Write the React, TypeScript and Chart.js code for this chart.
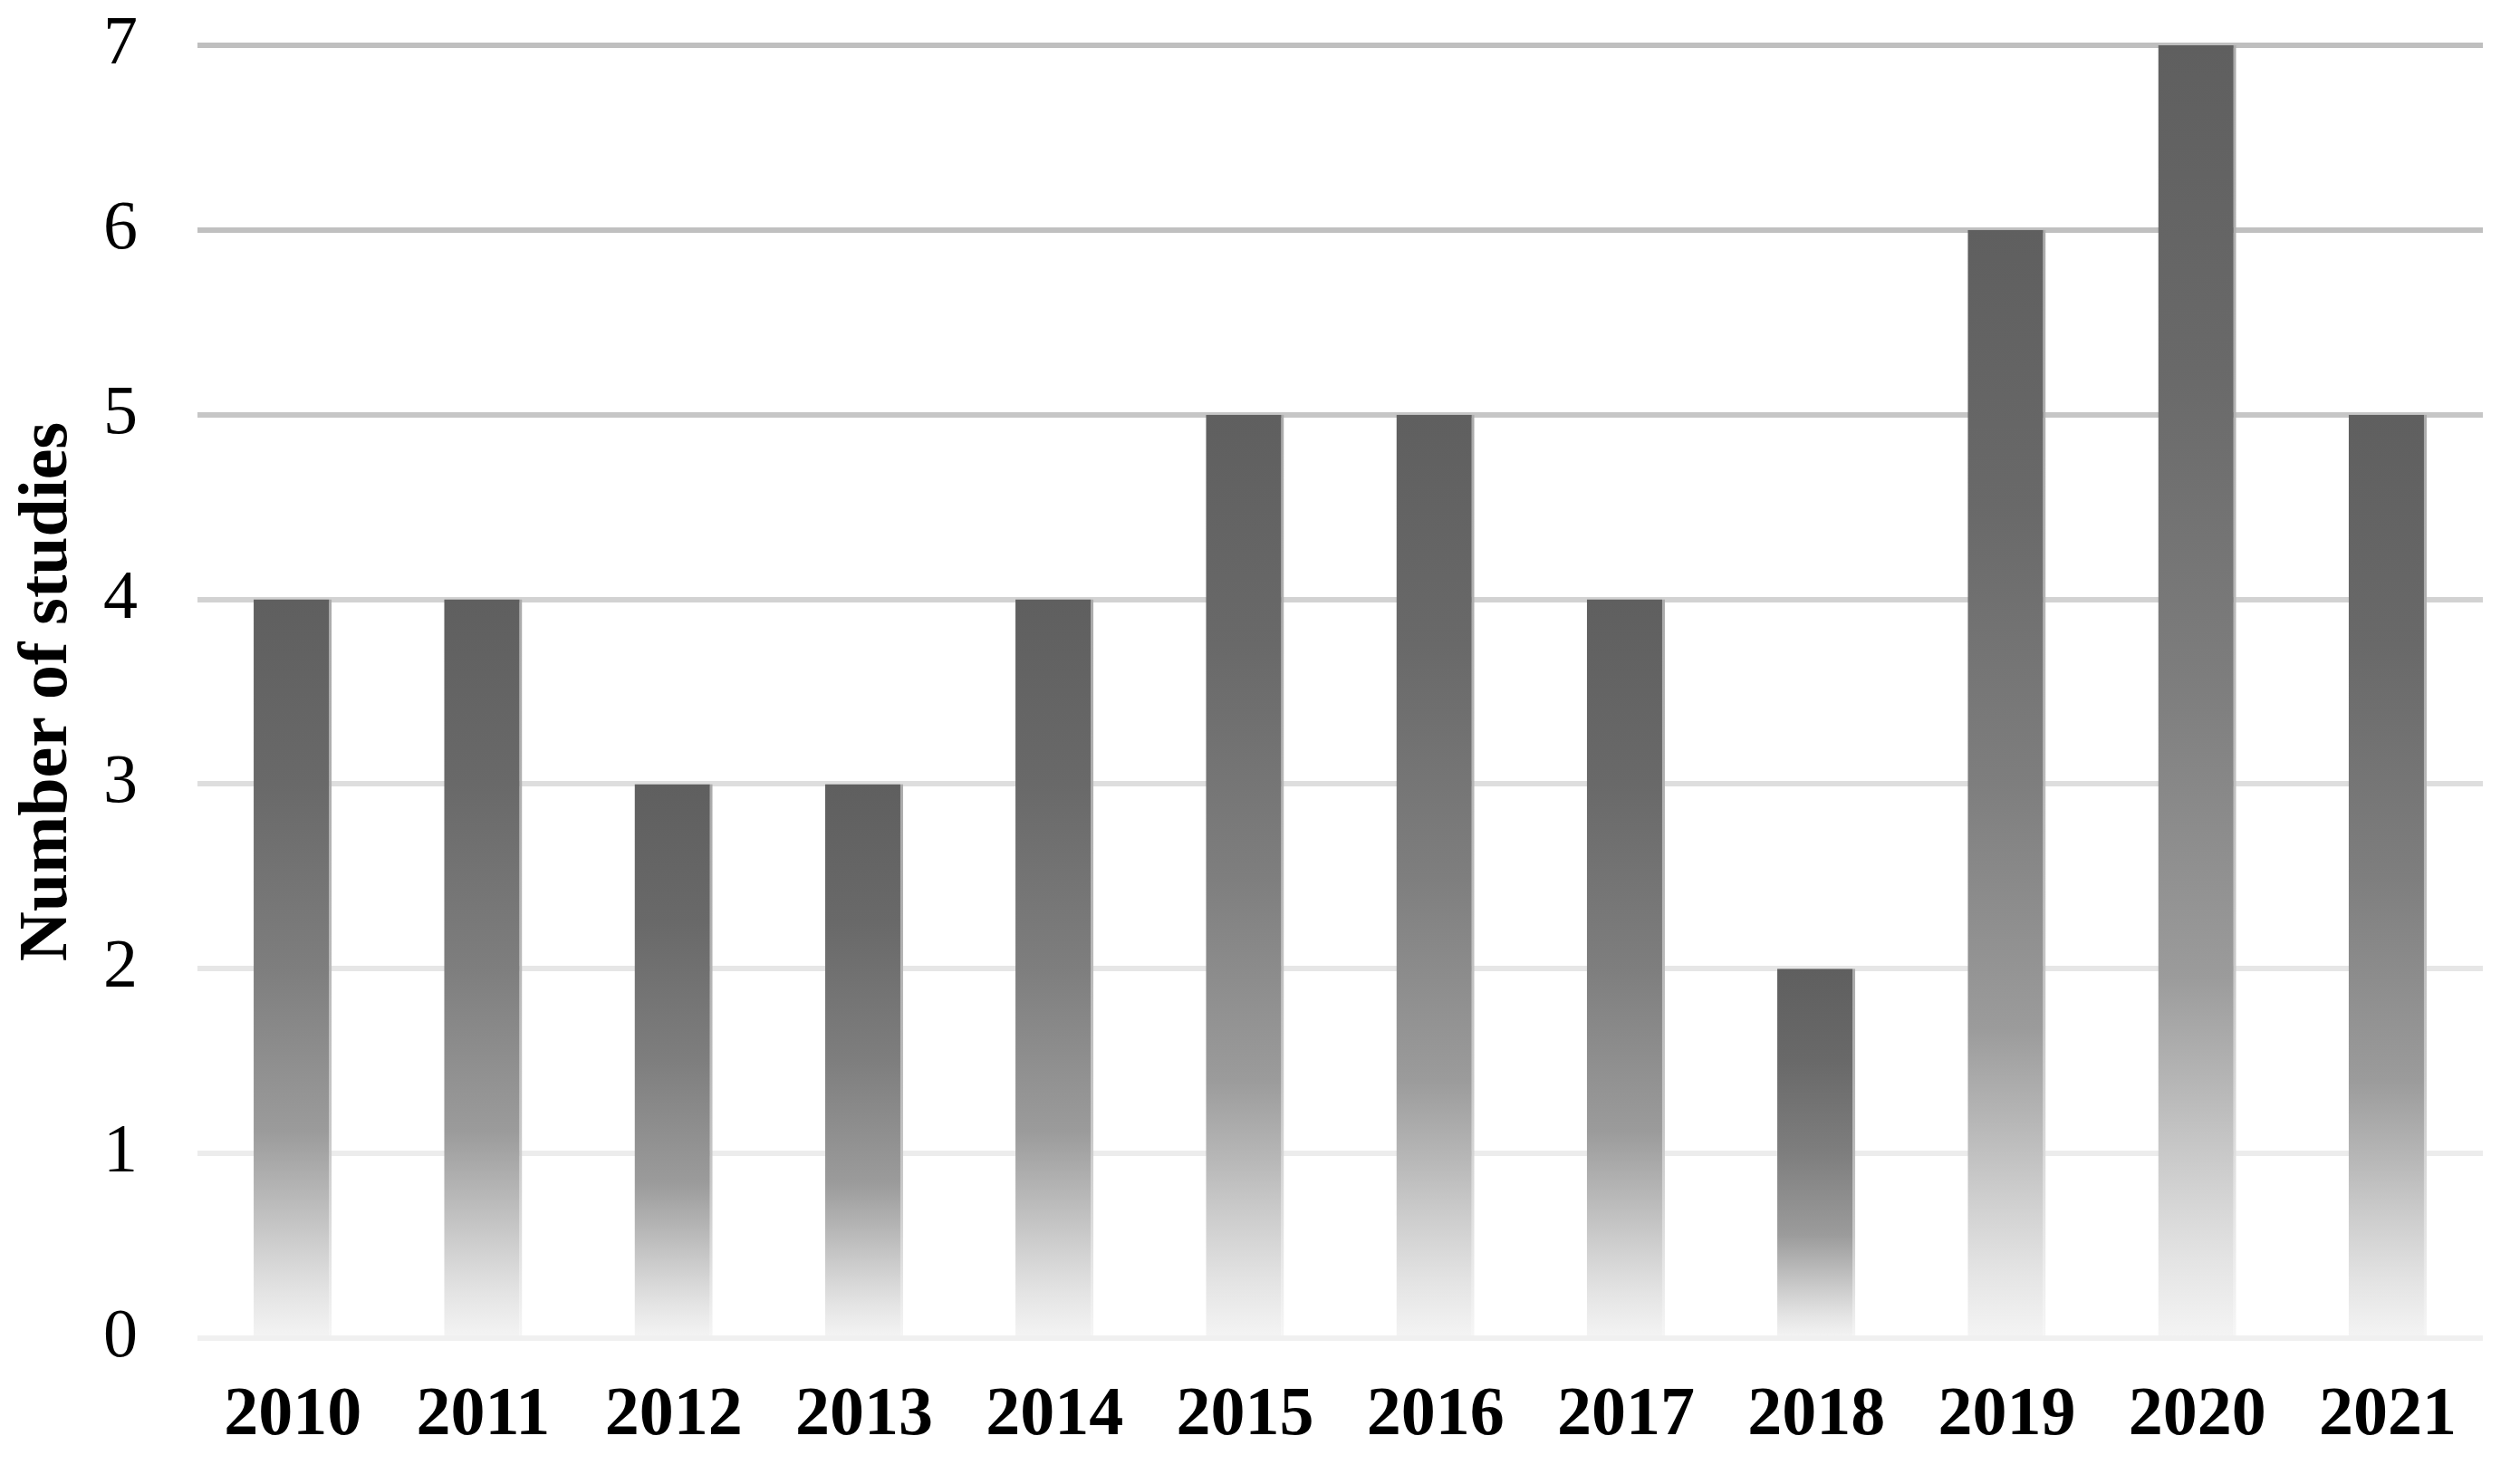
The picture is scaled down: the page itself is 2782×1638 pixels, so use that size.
import React, { useEffect, useRef } from "react";
import { Chart, registerables } from "chart.js";

Chart.register(...registerables);

const categories = ["2010", "2011", "2012", "2013", "2014", "2015", "2016", "2017", "2018", "2019", "2020", "2021"];
const studies = [4, 4, 3, 3, 4, 5, 5, 4, 2, 6, 7, 5];
const yTickValues = [0, 1, 2, 3, 4, 5, 6, 7];
const gridColors = ["#f0f0f0", "#ececec", "#e6e6e6", "#dedede", "#d2d2d2", "#c6c6c6", "#c0c0c0", "#bfbfbf"];
const barStopOffsets = [0, 0.25, 0.5, 0.72, 0.8, 0.87, 0.94, 1];
const barStopColors = ["#5f5f5f", "#696969", "#7e7e7e", "#9b9b9b", "#b5b5b5", "#cdcdcd", "#e4e4e4", "#f4f4f4"];
const edgeStopColors = ["#ababab", "#b0b0b0", "#bababa", "#c8c8c8", "#d4d4d4", "#e0e0e0", "#ececec", "#f6f6f6"];
const yTitle = "Number of studies";

const FONT = "'Liberation Serif', 'Times New Roman', serif";

function barGradient(ctx: any, colors: string[]) {
  const c = ctx.chart;
  const ys = c.scales && c.scales.y;
  if (!ys || ctx.dataIndex === undefined) return colors[0];
  const v = studies[ctx.dataIndex];
  const top = ys.getPixelForValue(v);
  const bottom = ys.getPixelForValue(0);
  if (!isFinite(top) || !isFinite(bottom) || top === bottom) return colors[0];
  const g = c.ctx.createLinearGradient(0, top, 0, bottom);
  barStopOffsets.forEach((o, i) => g.addColorStop(o, colors[i]));
  return g;
}

export default function App() {
  const canvasRef = useRef<HTMLCanvasElement | null>(null);

  useEffect(() => {
    const canvas = canvasRef.current;
    if (!canvas) return;
    const chart = new Chart(canvas, {
      type: "bar",
      data: {
        labels: categories,
        datasets: [
          {
            label: yTitle,
            data: studies,
            backgroundColor: (ctx: any) => barGradient(ctx, barStopColors),
            borderColor: (ctx: any) => barGradient(ctx, edgeStopColors),
            borderWidth: { top: 0, left: 0, bottom: 0, right: 3 },
            borderSkipped: false,
            barPercentage: 0.41,
            categoryPercentage: 1,
          },
        ],
      },
      options: {
        animation: false,
        responsive: false,
        maintainAspectRatio: false,
        layout: { padding: { left: 0, right: 41, top: 50, bottom: 0 } },
        plugins: {
          legend: { display: false },
          tooltip: { enabled: false },
          title: { display: false },
        },
        scales: {
          x: {
            grid: { display: false, drawTicks: false },
            border: { display: false },
            ticks: {
              color: "#000000",
              padding: 41,
              font: { family: FONT, size: 76, weight: "bold", lineHeight: 1.2 },
              maxRotation: 0,
              autoSkip: false,
            },
            afterFit: (scale: any) => {
              scale.height = 161;
            },
          },
          y: {
            min: 0,
            max: 7,
            afterBuildTicks: (scale: any) => {
              scale.ticks = yTickValues.map((v) => ({ value: v }));
            },
            grid: {
              drawTicks: false,
              lineWidth: 6,
              color: (ctx: any) => {
                const v = ctx.tick ? ctx.tick.value : 0;
                const idx = yTickValues.indexOf(v);
                return gridColors[idx >= 0 ? idx : 0];
              },
            },
            border: { display: false },
            ticks: {
              color: "#000000",
              padding: 66,
              font: { family: FONT, size: 76, lineHeight: 1.2 },
            },
            title: {
              display: true,
              text: yTitle,
              color: "#000000",
              font: { family: FONT, size: 76, weight: "bold", lineHeight: 1 },
              padding: { top: 15, bottom: 0 },
            },
            afterFit: (scale: any) => {
              scale.width = 218;
              scale.paddingTop = 0;
              scale.paddingBottom = 0;
            },
          },
        },
      },
    });
    return () => {
      chart.destroy();
    };
  }, []);

  return (
    <div style={{ position: "fixed", left: 0, top: 0, width: 2782, height: 1638, background: "#ffffff" }}>
      <canvas ref={canvasRef} width={2782} height={1638} style={{ display: "block", width: 2782, height: 1638 }} />
    </div>
  );
}
